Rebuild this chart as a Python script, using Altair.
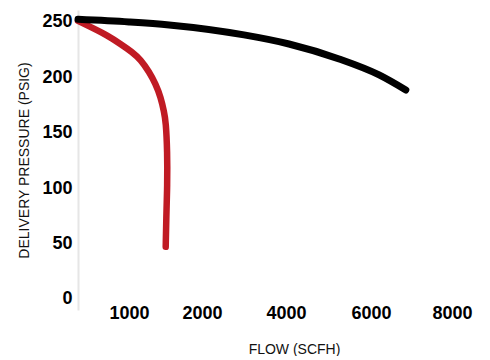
import altair as alt
import pandas as pd

# Black curve
black_flow = [0, 1000, 1550, 3000, 4070, 5250, 6200, 6860]
black_psig = [252.4, 250, 247.3, 238.3, 230.1, 216.6, 202.2, 188.6]

# Red curve
red_flow = [0, 310, 570, 840, 1040, 1160, 1275, 1365, 1435, 1480, 1505, 1525, 1525, 1510, 1503]
red_psig = [251, 244, 238, 230, 223, 216, 205, 194, 182, 169, 160, 133, 103, 72, 47]

x_ticks = [1000, 2000, 4000, 6000, 8000]
y_ticks = [0, 50, 100, 150, 200, 250]

rows = []
for i, (f, p) in enumerate(zip(red_flow, red_psig)):
    rows.append({"series": "red", "flow": f, "psig": p, "idx": i})
for i, (f, p) in enumerate(zip(black_flow, black_psig)):
    rows.append({"series": "black", "flow": f, "psig": p, "idx": i})
df = pd.DataFrame(rows)

TITLE_FONT = "Liberation Sans, Arial, sans-serif"
LABEL_FONT = "Liberation Sans, Arial, sans-serif"

xscale = alt.Scale(domain=[0, 1000, 2000, 4000, 6000, 8000],
                   range=[0, 51, 124, 208, 293, 374])
yscale = alt.Scale(domain=[-10, 260.8], nice=False, zero=False)

xenc = alt.X("flow:Q", scale=xscale,
             axis=alt.Axis(values=x_ticks, format="d", title="FLOW (SCFH)",
                           domain=False, ticks=False, grid=False,
                           labelFlush=False, labelOverlap=False,
                           labelFont=LABEL_FONT, labelFontSize=18,
                           labelFontWeight="bold", labelColor="#000",
                           labelBaseline="middle", labelPadding=3,
                           titleFont=TITLE_FONT, titleFontSize=14,
                           titleFontWeight="normal", titleColor="#111",
                           titleX=216, titleY=43, titleBaseline="alphabetic",
                           titleAlign="center"))
yenc = alt.Y("psig:Q", scale=yscale,
             axis=alt.Axis(values=y_ticks, format="d",
                           title="DELIVERY PRESSURE (PSIG)",
                           domain=True, domainColor="#e6e6e6", domainWidth=2,
                           ticks=False, grid=False, labelFont=LABEL_FONT,
                           labelFontSize=18, labelFontWeight="bold",
                           labelColor="#000", labelPadding=6,
                           titleFont=TITLE_FONT, titleFontSize=14,
                           titleFontWeight="normal", titleColor="#111",
                           titlePadding=10))

red = alt.Chart(df).transform_filter(alt.datum.series == "red").mark_line(
    color="#c01b24", strokeWidth=6.5, strokeCap="round", interpolate="basis"
).encode(x=xenc, y=yenc, order="idx:Q")

black = alt.Chart(df).transform_filter(alt.datum.series == "black").mark_line(
    color="#000000", strokeWidth=7, strokeCap="round", interpolate="monotone"
).encode(x=xenc, y=yenc, order="idx:Q")

chart = alt.layer(red, black).properties(
    width=400, height=300,
    padding={"left": 9, "top": -3, "right": 3, "bottom": 0},
).configure_view(stroke=None)

chart.save("out.html", embed_options={"renderer": "svg", "actions": False})
